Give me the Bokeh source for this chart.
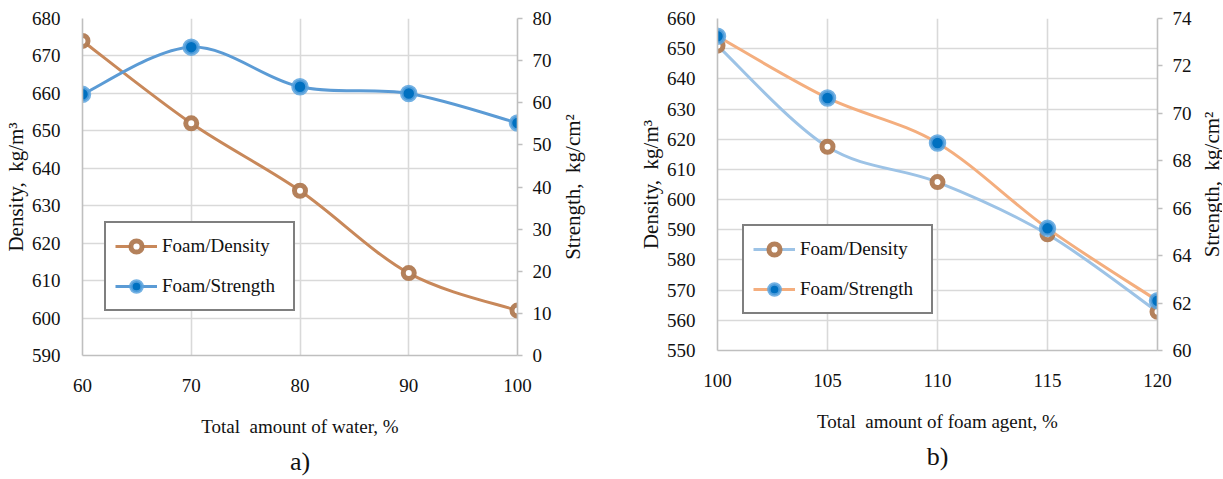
import math
from bokeh.plotting import figure
from bokeh.models import (Range1d, LinearAxis, FixedTicker, Legend, LegendItem,
                          ColumnDataSource, Title, Label)
from bokeh.layouts import row
from bokeh.embed import file_html
from bokeh.resources import INLINE

# ---------------- data ----------------
# chart a) : total amount of water
water_pct = [60, 70, 80, 90, 100]
density_a = [674, 652, 634, 612, 602]
strength_a = [62.0, 73.2, 63.8, 62.2, 55.2]

# chart b) : total amount of foam agent
foam_pct = [100, 105, 110, 115, 120]
density_b = [651, 617.5, 605.8, 588.5, 562.8]
strength_b = [73.25, 70.65, 68.75, 65.15, 62.1]

a_x_ticks = [60, 70, 80, 90, 100]
a_y_ticks = list(range(590, 681, 10))
a_y2_ticks = list(range(0, 81, 10))
b_x_ticks = [100, 105, 110, 115, 120]
b_y_ticks = list(range(550, 661, 10))
b_y2_ticks = list(range(60, 75, 2))

FONT = "Liberation Serif"
GRID = "#D9D9D9"
AXIS = "#BFBFBF"
TXT = "#111111"
NB = "\u00a0"
TOTAL_H = 478
TOP = 18


def smooth_source(xs, ys):
    """Bezier segments (Excel-like smoothing) derived from the data points."""
    n = len(xs)
    d = dict(x0=[], y0=[], x1=[], y1=[], cx0=[], cy0=[], cx1=[], cy1=[])
    for i in range(n - 1):
        a = max(i - 1, 0)
        b = min(i + 2, n - 1)
        d["x0"].append(xs[i]); d["y0"].append(ys[i])
        d["x1"].append(xs[i + 1]); d["y1"].append(ys[i + 1])
        d["cx0"].append(xs[i] + (xs[i + 1] - xs[a]) / 6)
        d["cy0"].append(ys[i] + (ys[i + 1] - ys[a]) / 6)
        d["cx1"].append(xs[i + 1] - (xs[b] - xs[i]) / 6)
        d["cy1"].append(ys[i + 1] - (ys[b] - ys[i]) / 6)
    return ColumnDataSource(d)


def base_fig(xr, yr, y2r, xt, yt, y2t, fw, fh, bl, br):
    p = figure(frame_width=fw, frame_height=fh,
               x_range=Range1d(*xr), y_range=Range1d(*yr),
               output_backend="svg", toolbar_location=None,
               min_border_left=bl, min_border_right=br,
               min_border_top=TOP, min_border_bottom=TOTAL_H - TOP - fh)
    p.outline_line_color = None
    p.background_fill_color = "white"
    p.border_fill_color = "white"
    p.extra_y_ranges = {"y2": Range1d(*y2r)}

    p.xaxis.ticker = FixedTicker(ticks=xt)
    p.yaxis.ticker = FixedTicker(ticks=yt)
    for g in (p.xgrid[0], p.ygrid[0]):
        g.grid_line_color = GRID
        g.grid_line_width = 1.6

    for ax in (p.xaxis[0], p.yaxis[0]):
        ax.axis_line_color = AXIS
        ax.axis_line_width = 1.6
        ax.major_tick_line_color = None
        ax.minor_tick_line_color = None
        ax.major_label_text_font = FONT
        ax.major_label_text_font_size = "19px"
        ax.major_label_text_color = TXT
        ax.axis_label_text_font = FONT
        ax.axis_label_text_font_style = "normal"
        ax.axis_label_text_color = TXT
    p.yaxis[0].major_label_standoff = 16
    p.yaxis[0].axis_label_text_font_size = "21px"
    p.yaxis[0].axis_label_standoff = 1
    p.xaxis[0].major_label_standoff = 17
    p.xaxis[0].axis_label_text_font_size = "19px"
    p.xaxis[0].axis_label_standoff = 21

    ax2 = LinearAxis(y_range_name="y2", ticker=FixedTicker(ticks=y2t))
    ax2.axis_line_color = AXIS
    ax2.axis_line_width = 1.6
    ax2.major_tick_line_color = AXIS
    ax2.major_tick_line_width = 1.6
    ax2.major_tick_in = 0
    ax2.major_tick_out = 5
    ax2.minor_tick_line_color = None
    ax2.major_label_text_font = FONT
    ax2.major_label_text_font_size = "19px"
    ax2.major_label_text_color = TXT
    ax2.major_label_standoff = 10
    p.add_layout(ax2, "right")
    return p


def title_strip(text, width, fh, cx):
    """Narrow strip holding the right-hand axis title, reading bottom-to-top."""
    s = figure(frame_width=width, frame_height=fh, x_range=Range1d(0, 1),
               y_range=Range1d(0, 1), output_backend="svg",
               toolbar_location=None, x_axis_type=None, y_axis_type=None,
               min_border_left=0, min_border_right=0, min_border_top=TOP,
               min_border_bottom=TOTAL_H - TOP - fh)
    s.outline_line_color = None
    s.grid.visible = False
    s.background_fill_color = "white"
    s.border_fill_color = "white"
    lab = Label(x=cx, y=fh / 2, x_units="screen", y_units="screen",
                text=text, angle=math.pi / 2, angle_units="rad",
                text_align="center", text_baseline="middle",
                text_font=FONT, text_font_size="21px", text_color=TXT)
    s.add_layout(lab)
    return s


def add_series(p, xs, ys, line_color, marker_kind, y_range_name="default"):
    src = smooth_source(xs, ys)
    p.bezier(x0="x0", y0="y0", x1="x1", y1="y1", cx0="cx0", cy0="cy0",
             cx1="cx1", cy1="cy1", source=src, line_color=line_color,
             line_width=3, y_range_name=y_range_name)
    # one-point line: invisible on the plot, provides the legend's line sample
    proxy = p.line(x=xs[:1], y=ys[:1], line_color=line_color, line_width=3,
                   y_range_name=y_range_name)
    if marker_kind == "ring":
        m = p.scatter(xs, ys, marker="circle", size=11, fill_color="white",
                      line_color="#B07A52", line_width=5, line_alpha=0.95,
                      y_range_name=y_range_name)
    else:
        m = p.scatter(xs, ys, marker="circle", size=14, fill_color="#0070C0",
                      line_color="#5BA3DE", line_width=3.5, line_alpha=0.85,
                      y_range_name=y_range_name)
    return [proxy, m]


def add_legend(p, items, loc):
    lg = Legend(items=items, location=loc)
    lg.border_line_color = "black"
    lg.border_line_width = 2
    lg.background_fill_color = "white"
    lg.background_fill_alpha = 1
    lg.label_text_font = FONT
    lg.label_text_font_size = "19px"
    lg.label_text_color = TXT
    lg.glyph_width = 42
    lg.glyph_height = 28
    lg.label_height = 28
    lg.label_width = 122
    lg.label_standoff = 5
    lg.spacing = 12
    lg.padding = 9
    lg.margin = 0
    p.add_layout(lg)


def add_caption(p, text):
    t = Title(text=text, align="center", text_font=FONT,
              text_font_size="26px", text_font_style="normal",
              text_color=TXT, standoff=10)
    p.add_layout(t, "below")


# ---------------- chart a ----------------
AW, AH = 435, 337
pa = base_fig((60, 100), (590, 680), (0, 80), a_x_ticks, a_y_ticks, a_y2_ticks,
              AW, AH, 82, 41)
pa.xaxis[0].axis_label = "Total" + NB + " amount of water, %"
pa.yaxis[0].axis_label = "Density," + NB + " kg/m³"
ra_d = add_series(pa, water_pct, density_a, "#C8885A", "ring")
ra_s = add_series(pa, water_pct, strength_a, "#5B9BD5", "dot", "y2")
add_legend(pa, [LegendItem(label="Foam/Density", renderers=ra_d),
                LegendItem(label="Foam/Strength", renderers=ra_s)], (22, 44))
add_caption(pa, "a)")
la = title_strip("Strength," + NB + " kg/cm²", 28, AH, 14)

# ---------------- chart b ----------------
BW, BH = 440, 332
pb = base_fig((100, 120), (550, 660), (60, 74), b_x_ticks, b_y_ticks, b_y2_ticks,
              BW, BH, 131, 40)
pb.xaxis[0].axis_label = "Total" + NB + " amount of foam agent, %"
pb.yaxis[0].axis_label = "Density," + NB + " kg/m³"
rb_d = add_series(pb, foam_pct, density_b, "#9DC3E6", "ring")
rb_s = add_series(pb, foam_pct, strength_b, "#F4AE7E", "dot", "y2")
add_legend(pb, [LegendItem(label="Foam/Density", renderers=rb_d),
                LegendItem(label="Foam/Strength", renderers=rb_s)], (25, 36))
add_caption(pb, "b)")
lb = title_strip("Strength," + NB + " kg/cm²", 25, BH, 14)

layout = row(pa, la, pb, lb)
open("out.html", "w").write(file_html(layout, INLINE))
